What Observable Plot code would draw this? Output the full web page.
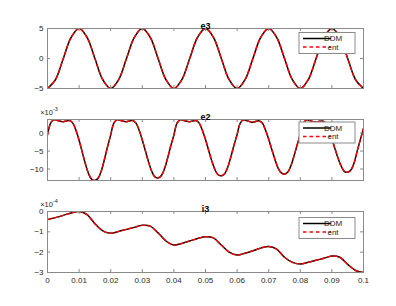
<!DOCTYPE html>
<html>
<head>
<meta charset="utf-8">
<script src="https://cdn.jsdelivr.net/npm/d3@7"></script>
<script src="https://cdn.jsdelivr.net/npm/@observablehq/plot@0.6"></script>
<style>
  body { margin: 0; background: white; }
  #chart { position: relative; width: 396px; height: 306px; background: white; }
  #chart svg { position: absolute; left: 0; }
</style>
</head>
<body>
<div id="chart"></div>
<script>
// ---- data ----
const xTicks = [0, 0.01, 0.02, 0.03, 0.04, 0.05, 0.06, 0.07, 0.08, 0.09, 0.1];
const xTickLabels = ["0", "0.01", "0.02", "0.03", "0.04", "0.05", "0.06", "0.07", "0.08", "0.09", "0.1"];

const tCoarse = [0, 0.0025, 0.005, 0.0075, 0.01, 0.0125, 0.015, 0.0175, 0.02, 0.0225,
  0.025, 0.0275, 0.03, 0.0325, 0.035, 0.0375, 0.04, 0.0425, 0.045, 0.0475,
  0.05, 0.0525, 0.055, 0.0575, 0.06, 0.0625, 0.065, 0.0675, 0.07, 0.0725,
  0.075, 0.0775, 0.08, 0.0825, 0.085, 0.0875, 0.09, 0.0925, 0.095, 0.0975, 0.1];

const tFine = [0, 0.001, 0.002, 0.003, 0.004, 0.005, 0.006, 0.007, 0.008, 0.009,
  0.010, 0.011, 0.012, 0.013, 0.014, 0.015, 0.016, 0.017, 0.018, 0.019,
  0.020, 0.021, 0.022, 0.023, 0.024, 0.025, 0.026, 0.027, 0.028, 0.029,
  0.030, 0.031, 0.032, 0.033, 0.034, 0.035, 0.036, 0.037, 0.038, 0.039,
  0.040, 0.041, 0.042, 0.043, 0.044, 0.045, 0.046, 0.047, 0.048, 0.049,
  0.050, 0.051, 0.052, 0.053, 0.054, 0.055, 0.056, 0.057, 0.058, 0.059,
  0.060, 0.061, 0.062, 0.063, 0.064, 0.065, 0.066, 0.067, 0.068, 0.069,
  0.070, 0.071, 0.072, 0.073, 0.074, 0.075, 0.076, 0.077, 0.078, 0.079,
  0.080, 0.081, 0.082, 0.083, 0.084, 0.085, 0.086, 0.087, 0.088, 0.089,
  0.090, 0.091, 0.092, 0.093, 0.094, 0.095, 0.096, 0.097, 0.098, 0.099, 0.100];

// e3 (DDM and ent coincide)
const e3 = [-5, -3.54, 0, 3.54, 5, 3.54, 0, -3.54,
  -5, -3.54, 0, 3.54, 5, 3.54, 0, -3.54,
  -5, -3.54, 0, 3.54, 5, 3.54, 0, -3.54,
  -5, -3.54, 0, 3.54, 5, 3.54, 0, -3.54,
  -5, -3.54, 0, 3.54, 5, 3.54, 0, -3.54, -5];

// e2 in units of 1e-3
const e2 = [-0.5, 2.8, 3.7, 3.6, 3.3, 3.2, 3.4, 3.5, 2.8, 0.8,
  -2.0, -5.3, -8.6, -11.3, -12.9, -13.2, -12.6, -10.6, -7.4, -3.8,
  -0.5, 2.8, 3.7, 3.6, 3.3, 3.2, 3.4, 3.5, 2.8, 0.8,
  -1.9, -5.0, -8.1, -10.7, -12.2, -12.5, -11.9, -10.0, -7.0, -3.6,
  -0.5, 2.8, 3.7, 3.6, 3.3, 3.2, 3.4, 3.5, 2.8, 0.8,
  -1.8, -4.8, -7.8, -10.2, -11.6, -11.9, -11.4, -9.6, -6.7, -3.4,
  -0.4, 2.8, 3.7, 3.5, 3.2, 3.0, 3.3, 3.4, 2.8, 0.8,
  -1.7, -4.6, -7.4, -9.8, -11.1, -11.4, -10.9, -9.2, -6.4, -3.3,
  -0.4, 2.8, 3.7, 3.5, 3.2, 3.1, 3.3, 3.4, 2.8, 0.8,
  -1.7, -4.4, -7.1, -9.3, -10.7, -10.9, -10.3, -8.4, -5.0, -1.8, 1.3];

// i3 in units of 1e-4
const i3 = [-0.40, -0.30, -0.19, -0.07, 0.00, -0.15, -0.60, -0.95, -1.07, -0.98,
  -0.88, -0.78, -0.68, -0.72, -1.05, -1.45, -1.65, -1.57, -1.45, -1.33,
  -1.24, -1.30, -1.65, -2.00, -2.14, -2.05, -1.93, -1.80, -1.72, -1.85,
  -2.25, -2.50, -2.58, -2.50, -2.40, -2.30, -2.19, -2.25, -2.60, -2.90, -3.00];

const seriesNames = ["DDM", "ent"];

// ---- drawing ----
const W = 396, H = 110, ML = 47, MR = 33;
const font = "'Liberation Sans', Arial, Helvetica, sans-serif";
const axisColor = "#262626";
const boxColor = "#8a8a8a";

function panel({top, marginTop, marginBottom, t, vals, yDomain, yTicks, title, exponent, legendTop}) {
  const data = t.map((x, i) => ({x, y: vals[i]}));
  const plotH = H - marginTop - marginBottom;
  const plotW = W - ML - MR;
  const svg = Plot.plot({
    width: W, height: H,
    marginLeft: ML, marginRight: MR, marginTop, marginBottom,
    style: {fontFamily: font, fontSize: "8px", color: axisColor, background: "white", overflow: "visible"},
    x: {domain: [0, 0.1], label: null},
    y: {domain: yDomain, label: null},
    marks: [
      Plot.line(data, {x: "x", y: "y", stroke: "black", strokeWidth: 1.5, curve: "catmull-rom", clip: true}),
      Plot.line(data, {x: "x", y: "y", stroke: "#ff0000", strokeWidth: 1.4, strokeDasharray: "3.5,3", curve: "catmull-rom", clip: true}),
      Plot.ruleX(xTicks, {x: d => d, stroke: boxColor, insetTop: plotH - 3}),
      Plot.ruleX(xTicks, {x: d => d, stroke: boxColor, insetBottom: plotH - 3}),
      Plot.ruleY(yTicks, {y: d => d, stroke: boxColor, insetRight: plotW - 3}),
      Plot.ruleY(yTicks, {y: d => d, stroke: boxColor, insetLeft: plotW - 3}),
      Plot.frame({stroke: boxColor}),
      Plot.axisX({ticks: xTicks, tickSize: 0, tickPadding: 5, label: null, tickFormat: (d, i) => xTickLabels[i], fill: axisColor}),
      Plot.axisY({ticks: yTicks, tickSize: 0, tickPadding: 4, label: null, tickFormat: d => d3.format("d")(d), fill: axisColor}),
      Plot.text([title], {frameAnchor: "top", dy: -6, text: d => d, fontWeight: "bold", fontSize: 9, fill: "#000"})
    ]
  });
  svg.style.top = top + "px";
  const s = d3.select(svg);
  if (exponent) {
    const tx = s.append("text")
      .attr("x", ML + 2).attr("y", marginTop - 4)
      .attr("font-family", font).attr("font-size", 7.5).attr("fill", axisColor);
    tx.append("tspan").text("×10");
    tx.append("tspan").attr("dy", -4).attr("font-size", 5.5).text(exponent);
  }
  // legend
  const lx = 299, lw = 56, lh = 21;
  const g = s.append("g");
  g.append("rect").attr("x", lx).attr("y", legendTop).attr("width", lw).attr("height", lh)
    .attr("fill", "white").attr("stroke", boxColor).attr("stroke-width", 1);
  const rows = [
    {name: seriesNames[0], stroke: "black", dash: null},
    {name: seriesNames[1], stroke: "#ff0000", dash: "3.5,3"}
  ];
  rows.forEach((r, i) => {
    const yy = legendTop + 6 + i * 8.5;
    const ln = g.append("line").attr("x1", lx + 4).attr("x2", lx + 32).attr("y1", yy).attr("y2", yy)
      .attr("stroke", r.stroke).attr("stroke-width", 1.5);
    if (r.dash) ln.attr("stroke-dasharray", r.dash);
    g.append("text").attr("x", lx + 34).attr("y", yy).attr("dy", "0.35em")
      .attr("font-family", font).attr("font-size", 8).attr("fill", axisColor).text(r.name);
  });
  return svg;
}

const chart = document.getElementById("chart");
chart.appendChild(panel({top: 0, marginTop: 28, marginBottom: 22, t: tCoarse, vals: e3,
  yDomain: [-5, 5], yTicks: [-5, 0, 5], title: "e3", exponent: null, legendTop: 32.5}));
chart.appendChild(panel({top: 92, marginTop: 27, marginBottom: 22, t: tFine, vals: e2,
  yDomain: [-13.2, 3.8], yTicks: [-10, -5, 0], title: "e2", exponent: "-3", legendTop: 30}));
chart.appendChild(panel({top: 184, marginTop: 27, marginBottom: 22, t: tCoarse, vals: i3,
  yDomain: [-3, 0], yTicks: [-3, -2, -1, 0], title: "i3", exponent: "-4", legendTop: 33.5}));
</script>
</body>
</html>
